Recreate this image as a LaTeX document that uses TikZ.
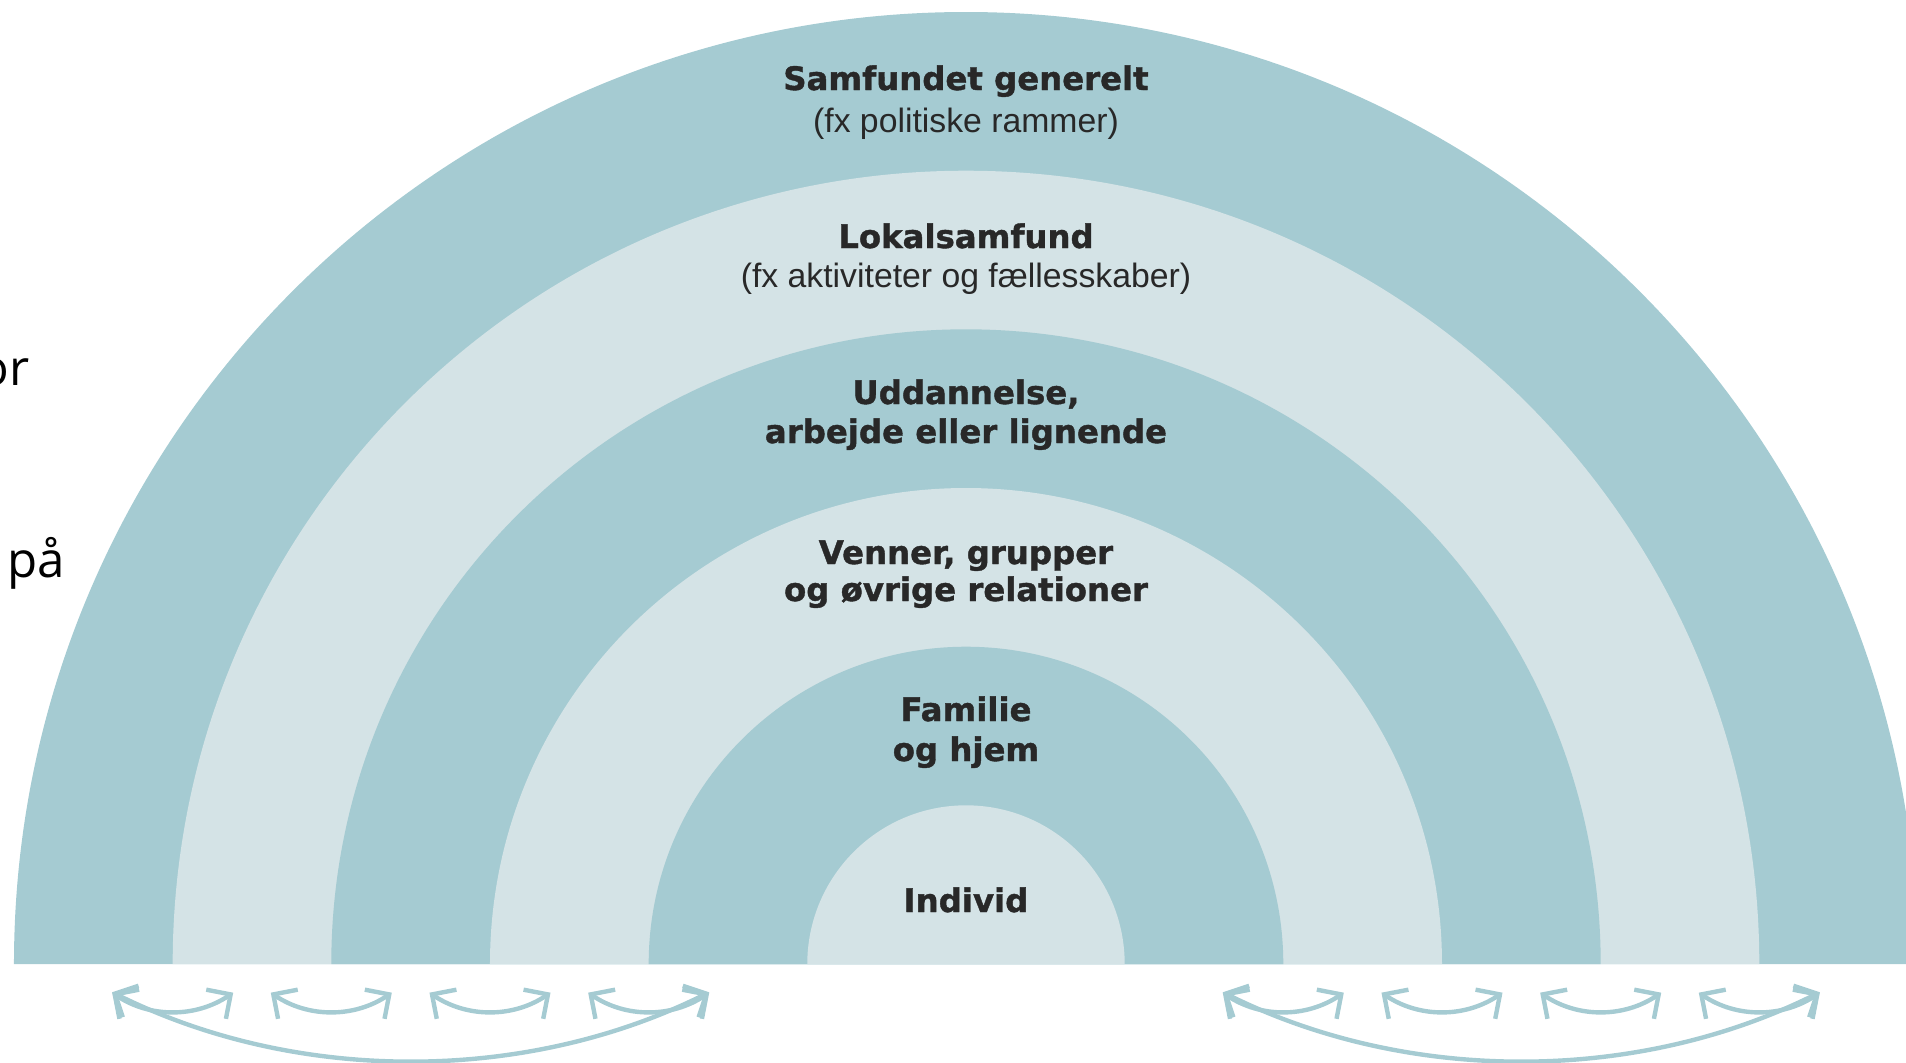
\documentclass[tikz,border=0pt]{standalone}
\usepackage{fontspec}
\usepackage{tikz}
\usetikzlibrary{arrows.meta}
\newfontfamily\headfont{DejaVu Sans}[BoldFeatures={FakeBold=1.2}]
\newfontfamily\subfont{Liberation Sans}
\newfontfamily\slidefont{Open Sans}

\begin{document}
\begin{tikzpicture}[x=0.01cm,y=0.01cm]
\definecolor{ringdark}{RGB}{165,203,210}
\definecolor{ringlight}{RGB}{212,227,230}
\definecolor{inkgray}{RGB}{40,40,40}
\tikzstyle{head} = [inner sep=0, anchor=base, text=inkgray, font=\headfont\bfseries\fontsize{9.2}{11}\selectfont]
\tikzstyle{sub} = [inner sep=0, anchor=base, text=inkgray, font=\subfont\fontsize{9.6}{11}\selectfont]
\tikzstyle{link} = [draw=ringdark, line width=1.25pt, <->, >={Straight Barb[length=5pt,width=10pt]}]

\useasboundingbox (-966,-98) rectangle (940,964);

% rings, from the outside in
\fill[ringdark] (-952,0) arc[start angle=180, end angle=0, radius=952] -- cycle;
\fill[ringlight] (-793.3,0) arc[start angle=180, end angle=0, radius=793.3] -- cycle;
\fill[ringdark] (-634.7,0) arc[start angle=180, end angle=0, radius=634.7] -- cycle;
\fill[ringlight] (-476,0) arc[start angle=180, end angle=0, radius=476] -- cycle;
\fill[ringdark] (-317.3,0) arc[start angle=180, end angle=0, radius=317.3] -- cycle;
\fill[ringlight] (-158.7,0) arc[start angle=180, end angle=0, radius=158.7] -- cycle;

\node[head] (samf) at (0,874) {Samfundet generelt};
\node[sub] (samfsub) at (0,832) {(fx politiske rammer)};
\node[head] (lokal) at (0,716) {Lokalsamfund};
\node[sub] (lokalsub) at (0,677) {(fx aktiviteter og fællesskaber)};
\node[head] (udd) at (0,560) {Uddannelse,};
\node[head] (uddb) at (0,521) {arbejde eller lignende};
\node[head] (venner) at (0,400) {Venner, grupper};
\node[head] (vennerb) at (0,363) {og øvrige relationer};
\node[head] (fam) at (0,243) {Familie};
\node[head] (famb) at (0,203) {og hjem};
\node[head] (individ) at (0,52) {Individ};

% cut-off slide text
\node[inner sep=0, anchor=base east, font=\slidefont\fontsize{14}{16}\selectfont] (orleft) at (-936,579) {or};
\node[inner sep=0, anchor=base west, font=\slidefont\fontsize{14}{16}\selectfont] (paa) at (-959,387) {på};

% arrow ends
\node[inner sep=0] (l1) at (-856.3,-27) {};
\node[inner sep=0] (l2) at (-730.3,-27) {};
\node[inner sep=0] (l3) at (-697.7,-27) {};
\node[inner sep=0] (l4) at (-571.7,-27) {};
\node[inner sep=0] (l5) at (-539,-27) {};
\node[inner sep=0] (l6) at (-413,-27) {};
\node[inner sep=0] (l7) at (-380.3,-27) {};
\node[inner sep=0] (l8) at (-254.3,-27) {};
\node[inner sep=0] (r1) at (254.3,-27) {};
\node[inner sep=0] (r2) at (380.3,-27) {};
\node[inner sep=0] (r3) at (413,-27) {};
\node[inner sep=0] (r4) at (539,-27) {};
\node[inner sep=0] (r5) at (571.7,-27) {};
\node[inner sep=0] (r6) at (697.7,-27) {};
\node[inner sep=0] (r7) at (730.3,-27) {};
\node[inner sep=0] (r8) at (856.3,-27) {};

\draw[link] (l1) .. controls +(40,-27) and +(-40,-27) .. (l2);
\draw[link] (l3) .. controls +(40,-27) and +(-40,-27) .. (l4);
\draw[link] (l5) .. controls +(40,-27) and +(-40,-27) .. (l6);
\draw[link] (l7) .. controls +(40,-27) and +(-40,-27) .. (l8);
\draw[link] (l1) .. controls +(186,-93) and +(-186,-93) .. (l8);

\draw[link] (r1) .. controls +(40,-27) and +(-40,-27) .. (r2);
\draw[link] (r3) .. controls +(40,-27) and +(-40,-27) .. (r4);
\draw[link] (r5) .. controls +(40,-27) and +(-40,-27) .. (r6);
\draw[link] (r7) .. controls +(40,-27) and +(-40,-27) .. (r8);
\draw[link] (r1) .. controls +(186,-93) and +(-186,-93) .. (r8);

\end{tikzpicture}
\end{document}
